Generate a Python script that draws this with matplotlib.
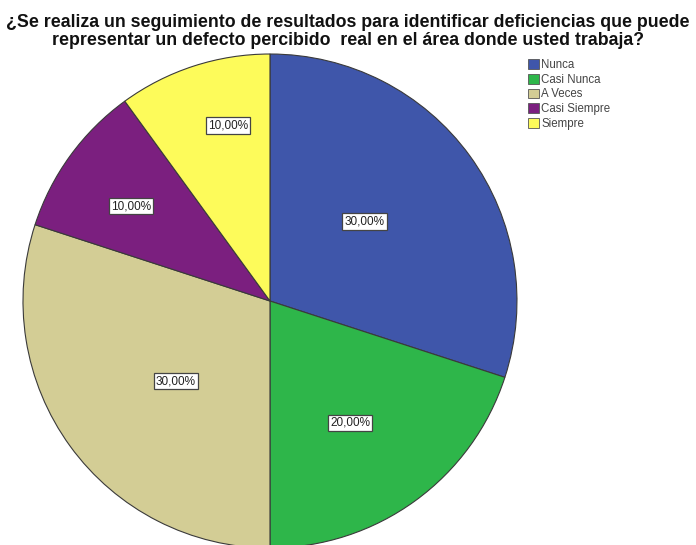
import matplotlib
matplotlib.use("Agg")
import matplotlib.pyplot as plt
import numpy as np
from matplotlib.patches import Patch

categories = ["Nunca", "Casi Nunca", "A Veces", "Casi Siempre", "Siempre"]
values = [30.0, 20.0, 30.0, 10.0, 10.0]
colors = ["#3F56AA", "#2EB64A", "#D3CD95", "#7B1F7F", "#FDFB5A"]

# label placement: fraction of radius and angular nudge (degrees) per slice
label_radius = [0.50, 0.59, 0.50, 0.68, 0.73]
label_nudge = [4.0, -2.7, 4.4, 1.7, -4.6]

title = ("¿Se realiza un seguimiento de resultados para identificar deficiencias que puede\n"
         "representar un defecto percibido  real en el área donde usted trabaja?")

plt.rcParams["font.family"] = ["Liberation Sans", "DejaVu Sans"]

fig = plt.figure(figsize=(6.96, 5.45), dpi=100)
fig.patch.set_facecolor("white")

ax = fig.add_axes([0.033, -0.0055, 0.7098, 0.9064])
wedges, _ = ax.pie(values, colors=colors, startangle=90, counterclock=False,
                   radius=1.0,
                   wedgeprops=dict(edgecolor="#3a3a3a", linewidth=0.8))
ax.set_xlim(-1, 1)
ax.set_ylim(-1, 1)
ax.set_aspect("equal")
ax.axis("off")

for w, v, r, d in zip(wedges, values, label_radius, label_nudge):
    mid = np.deg2rad((w.theta1 + w.theta2) / 2 + d)
    ax.text(r * np.cos(mid), r * np.sin(mid), f"{v:.2f}%".replace(".", ","),
            ha="center", va="center", fontsize=8.5, color="#222222",
            bbox=dict(boxstyle="square,pad=0.18", facecolor="white",
                      edgecolor="#444444", linewidth=0.9))

fig.text(0.5, 0.974, title, ha="center", va="top", fontsize=12.8,
         fontweight="bold", linespacing=1.05, color="#111111")

handles = [Patch(facecolor=c, edgecolor="#555555", linewidth=0.6) for c in colors]
fig.legend(handles, categories, loc="upper left", bbox_to_anchor=(0.758, 0.891),
           frameon=False, fontsize=8.3, handlelength=0.95, handleheight=0.95,
           handletextpad=0.25, labelspacing=0.22, borderaxespad=0,
           borderpad=0, labelcolor="#444444")

fig.savefig("out.png", dpi=100)
